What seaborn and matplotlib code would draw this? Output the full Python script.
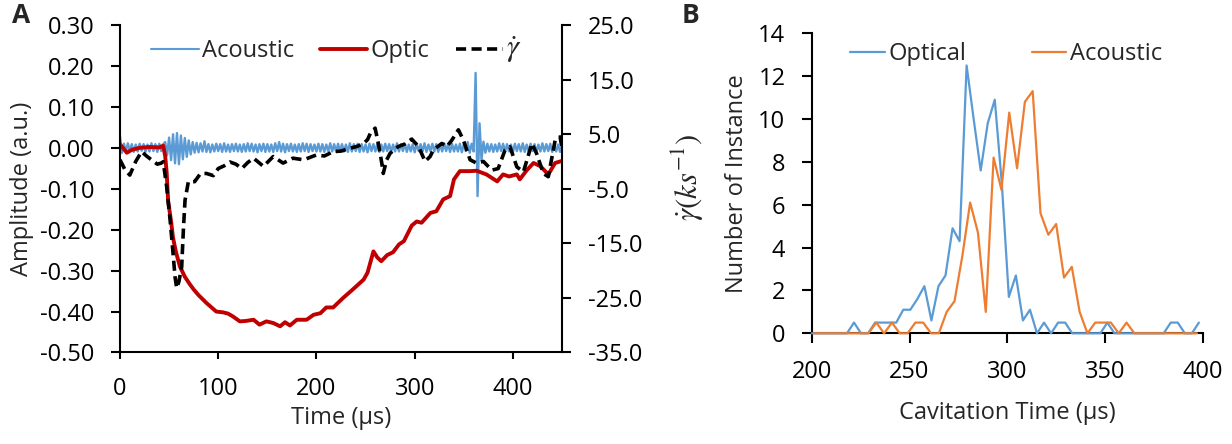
import numpy as np
import matplotlib
matplotlib.use("Agg")
import matplotlib.pyplot as plt
import seaborn as sns
from matplotlib.ticker import FormatStrFormatter
from matplotlib.lines import Line2D

# ---------------- Panel A data ----------------
# Acoustic signal (a.u. x 1000), sampled every 2 us from 0 to 450 us
acoustic_step_us = 2
acoustic_milli = [
    28, -12, 10, -9, 11, -8, 9, -10, 8, -9, 10, -7, 9, -10, 8, -9, 11, -8, 9, -10, 10, -8, 9,
    14, -18, 25, -30, 33, -38, 36, -40, 30, -28, 24, -22, 18, -16, 14, -12, 12, -11,
    11, -9, 16, -10, 9, -11, 8, -9, 10, -8, 9, -10, 11, -9, 8, -10, 9, -8, 10, -9,
    8, -10, 9, -9, 11, -8, 10, -9, 8, -11, 9, -8, 10, -10, 9, -9, 8, -10, 11, -8,
    14, -9, 10, -11, 9, -8, 10, -9, 8, -10, 9, -9, 11, -8, 10, -10, 9, -8, 8, -9,
    10, -9, 9, -10, 8, -8, 11, -9, 9, -10, 10, -8, 9, -9, 8, -10, 11, -9, 9, -8,
    10, -10, 9, -9, 8, -11, 10, -8, 9, -9, 11, -10, 8, -9, 10, -8, 9, -10, 8, -9,
    11, -9, 9, -8, 10, -10, 8, -9, 9, -11, 10, -8, 9, -9, 11, -10, 8, -8, 10, -9,
    9, -10, 8, -9, 11, -8, 9, -10, 10, -9, 8, -9, 10, -11, 9, -8, 14, -12, 10, -9,
    183, -118, 60, -30, 15, -12,
    10, -9, 9, -10, 8, -9, 11, -8, 10, -10, 9, -9, 8, -11, 10, -8, 9, -9, 11, -10,
    8, -9, 10, -8, 9, -10, 8, -9, 11, -9, 9, -8, 10, -10, 9, -9, 8, -10, 10,
]

optic_time = [0, 3, 7, 12, 20, 30, 40, 44, 46, 47.5, 49, 52, 54, 57, 61, 66, 71, 75, 80, 88,
              98, 105, 110, 115, 122, 128, 136, 142, 149, 156, 163, 168, 173, 180, 190, 197,
              204, 210, 217, 227, 237, 248, 252, 258, 262, 266, 272, 278, 284, 289, 297, 302,
              307, 316, 322, 329, 336, 340, 346, 356, 363, 373, 384, 390, 396, 404, 407, 414,
              421, 428, 436, 443, 450]
optic_amp = [0.008, 0.0, -0.012, -0.005, 0.0, 0.002, 0.001, 0.005, -0.02, -0.06, -0.13, -0.18,
             -0.22, -0.255, -0.29, -0.315, -0.333, -0.346, -0.36, -0.379, -0.40, -0.402, -0.405,
             -0.412, -0.424, -0.423, -0.42, -0.432, -0.424, -0.428, -0.436, -0.426, -0.434,
             -0.42, -0.42, -0.408, -0.404, -0.39, -0.39, -0.367, -0.346, -0.322, -0.305, -0.253,
             -0.268, -0.277, -0.262, -0.255, -0.236, -0.228, -0.19, -0.18, -0.183, -0.159,
             -0.155, -0.126, -0.118, -0.077, -0.057, -0.057, -0.056, -0.065, -0.082, -0.065,
             -0.07, -0.065, -0.077, -0.055, -0.037, -0.045, -0.065, -0.037, -0.032]

gamma_time = [0, 5, 10, 16, 22, 27, 32, 38, 42, 44, 47.5, 51, 54, 56, 57.7, 60, 62.8, 64.5,
              66.2, 69.6, 76, 82, 88, 95, 100, 106, 112, 118, 124, 130, 136, 146, 156, 166,
              176, 187, 200, 208, 217, 225, 234, 242, 248, 252, 255, 259.7, 263, 266.5, 268,
              271.5, 275, 283, 290, 297, 304, 310.6, 315.7, 319, 327.6, 332.7, 337.8, 344.5,
              349.6, 356.4, 363, 370, 378.5, 385, 392, 397, 404, 410.7, 419.3, 424, 431, 436,
              443, 448, 450]
gamma_rate = [0.3, -1.5, -2.5, 0.0, 1.8, 1.0, 0.3, -0.5, -0.3, -0.05, -4.6, -10.7, -16.8, -21.1,
              -23.2, -22.0, -19.3, -12.6, -7.1, -3.7, -3.7, -2.2, -2.2, -2.6, -1.3, -0.8, -0.1,
              -0.5, -1.3, -0.2, 0.6, -0.9, 0.9, -0.3, 0.6, 0.3, 1.2, 1.0, 1.8, 1.9, 2.4, 2.8,
              3.3, 4.0, 5.2, 6.1, 3.3, -0.3, -2.2, 0.3, 1.5, 2.7, 3.2, 4.1, 2.7, 0.0, 0.9, 2.1,
              3.3, 2.7, 3.9, 5.8, 3.9, 0.3, -0.3, 0.0, -1.6, -1.3, 2.1, 2.7, -1.0, -1.9, 3.3,
              1.5, -2.2, -2.8, 3.9, 4.5, 2.5]

amp_ticks = [-0.5, -0.4, -0.3, -0.2, -0.1, 0.0, 0.1, 0.2, 0.3]
gamma_ticks = [-35, -25, -15, -5, 5, 15, 25]
time_ticks = [0, 100, 200, 300, 400]

# ---------------- Panel B data ----------------
optical_time = [200, 203.6, 207.2, 210.8, 214.4, 218, 221.6, 225.2, 228.8, 232.4, 236, 239.6,
                243.2, 246.8, 250.4, 254, 257.6, 261.2, 264.8, 268.4, 272, 275.6, 279.2, 282.8,
                286.4, 290, 293.6, 297.2, 300.8, 304.4, 308, 311.6, 315.2, 318.8, 322.4, 326,
                329.6, 333.2, 336.8, 340.4, 344, 347.6, 351.2, 354.8, 358.4, 362, 365.6, 369.2,
                372.8, 376.4, 380, 383.6, 387.2, 390.8, 394.4, 398]
optical_count = [0, 0, 0, 0, 0, 0, 0.5, 0, 0, 0.5, 0.5, 0.5, 0.5, 1.1, 1.1, 1.6, 2.2, 0.6, 2.2,
                 2.7, 4.9, 4.3, 12.5, 10.0, 7.6, 9.8, 10.9, 7.0, 1.7, 2.7, 0.6, 1.1, 0, 0.5, 0,
                 0.5, 0.5, 0, 0, 0, 0, 0, 0.5, 0, 0, 0, 0, 0, 0, 0, 0, 0.5, 0.5, 0, 0, 0.5]

acoustic_time_b = [201, 205, 209, 213, 217, 221, 225, 229, 233, 237, 241, 245, 249, 253, 257,
                   261, 265, 269, 273, 277, 281, 285, 289, 293, 297, 301, 305, 309, 313, 317,
                   321, 325, 329, 333, 337, 341, 345, 349, 353, 357, 361, 365, 369, 373, 377,
                   381, 385, 389, 393, 397]
acoustic_count = [0, 0, 0, 0, 0, 0, 0, 0, 0.5, 0, 0.5, 0, 0, 0.5, 0.5, 0, 0, 1.0, 1.5, 3.6,
                  6.1, 4.7, 1.0, 8.2, 6.7, 10.3, 7.7, 10.8, 11.3, 5.6, 4.6, 5.1, 2.6, 3.1, 1.0,
                  0, 0.5, 0.5, 0.5, 0, 0.5, 0, 0, 0, 0, 0, 0, 0, 0, 0]

count_ticks = [0, 2, 4, 6, 8, 10, 12, 14]
cav_ticks = [200, 250, 300, 350, 400]

# ---------------- Style ----------------
sns.set_style("white")
plt.rcParams['font.family'] = ['Open Sans', 'DejaVu Sans']
plt.rcParams['axes.unicode_minus'] = False
plt.rcParams['mathtext.fontset'] = 'stix'

FS = 17
BLUE = '#5B9BD5'
ORANGE = '#ED7D31'
RED = '#C00000'

acoustic_time = np.arange(len(acoustic_milli)) * acoustic_step_us
acoustic_amp = np.array(acoustic_milli) / 1000.0

fig = plt.figure(figsize=(12.32, 4.44), dpi=100)
axA = fig.add_axes([0.0974, 0.2061, 0.3588, 0.7376])
axB = fig.add_axes([0.6589, 0.2493, 0.3174, 0.6757])

# ---- Panel A ----
sns.lineplot(x=acoustic_time, y=acoustic_amp, ax=axA, color=BLUE, lw=1.7, sort=False,
             estimator=None, legend=False)
sns.lineplot(x=optic_time, y=optic_amp, ax=axA, color=RED, lw=2.8, sort=False,
             estimator=None, legend=False)
axA.set_xlim(0, 450)
axA.set_ylim(-0.5, 0.3)
axA.set_xticks(time_ticks)
axA.set_yticks(amp_ticks)
axA.yaxis.set_major_formatter(FormatStrFormatter('%.2f'))
axA.set_xlabel('Time (µs)', fontsize=FS)
axA.set_ylabel('Amplitude (a.u.)', fontsize=FS)
axA.yaxis.set_label_coords(-0.195, 0.5)
axA.xaxis.set_label_coords(0.5, -0.163)

ax2 = axA.twinx()
sns.lineplot(x=gamma_time, y=gamma_rate, ax=ax2, color='black', lw=2.6, sort=False,
             estimator=None, legend=False, linestyle=(0, (2.8, 1.5)))
ax2.set_ylim(-35, 25)
ax2.set_yticks(gamma_ticks)
ax2.yaxis.set_major_formatter(FormatStrFormatter('%.1f'))
ax2.set_ylabel(r'$\dot{\gamma}(ks^{-1})$', fontsize=FS + 5)
ax2.yaxis.set_label_coords(1.245, 0.534)

for ax in (axA, ax2):
    for s in ax.spines.values():
        s.set_linewidth(1.5)
        s.set_color('black')
    ax.spines['top'].set_visible(False)
axA.spines['right'].set_visible(False)
ax2.spines['left'].set_visible(False)
ax2.spines['bottom'].set_visible(False)

axA.tick_params(axis='y', direction='out', length=6.5, width=1.5, labelsize=FS, pad=12,
                left=True, colors='black')
axA.tick_params(axis='x', direction='out', length=5, width=1.5, labelsize=FS, pad=13,
                bottom=True, colors='black')
ax2.tick_params(axis='y', direction='out', length=6.5, width=1.5, labelsize=FS, pad=12,
                right=True, colors='black')

handlesA = [Line2D([], [], color=BLUE, lw=1.5),
            Line2D([], [], color=RED, lw=2.8),
            Line2D([], [], color='black', lw=2.6, linestyle=(0, (2.8, 1.5)))]
legA = ax2.legend(handlesA, ['Acoustic', 'Optic', r'$\dot{\gamma}$'], loc='center',
                  bbox_to_anchor=(0.49, 0.924), ncol=3, frameon=False, fontsize=FS,
                  handlelength=2.0, handletextpad=0.15, columnspacing=1.1)
legA.get_texts()[2].set_fontsize(FS + 5)

# ---- Panel B ----
sns.lineplot(x=optical_time, y=optical_count, ax=axB, color=BLUE, lw=1.6, sort=False,
             estimator=None, legend=False, clip_on=False, zorder=3)
sns.lineplot(x=acoustic_time_b, y=acoustic_count, ax=axB, color=ORANGE, lw=1.6, sort=False,
             estimator=None, legend=False, clip_on=False, zorder=3)
axB.set_xlim(200, 400)
axB.set_ylim(0, 14)
axB.set_xticks(cav_ticks)
axB.set_yticks(count_ticks)
axB.set_xlabel('Cavitation Time (µs)', fontsize=FS)
axB.set_ylabel('Number of Instance', fontsize=FS)
axB.yaxis.set_label_coords(-0.16, 0.5)
axB.xaxis.set_label_coords(0.5, -0.225)
for s in axB.spines.values():
    s.set_linewidth(1.5)
    s.set_color('black')
axB.spines['top'].set_visible(False)
axB.spines['right'].set_visible(False)
axB.tick_params(axis='both', direction='out', length=7, width=1.5, labelsize=FS, pad=12,
                left=True, bottom=True, colors='black')

handlesB = [Line2D([], [], color=BLUE, lw=1.6), Line2D([], [], color=ORANGE, lw=1.6)]
axB.legend(handlesB, ['Optical', 'Acoustic'], loc='center', bbox_to_anchor=(0.497, 0.931),
           ncol=2, frameon=False, fontsize=FS, handlelength=1.45, handletextpad=0.15,
           columnspacing=2.8)

fig.text(12 / 1232, 1 - 23 / 444, 'A', fontsize=19, fontweight='bold', va='baseline')
fig.text(682 / 1232, 1 - 23 / 444, 'B', fontsize=19, fontweight='bold', va='baseline')

fig.savefig('out.png', dpi=100)
